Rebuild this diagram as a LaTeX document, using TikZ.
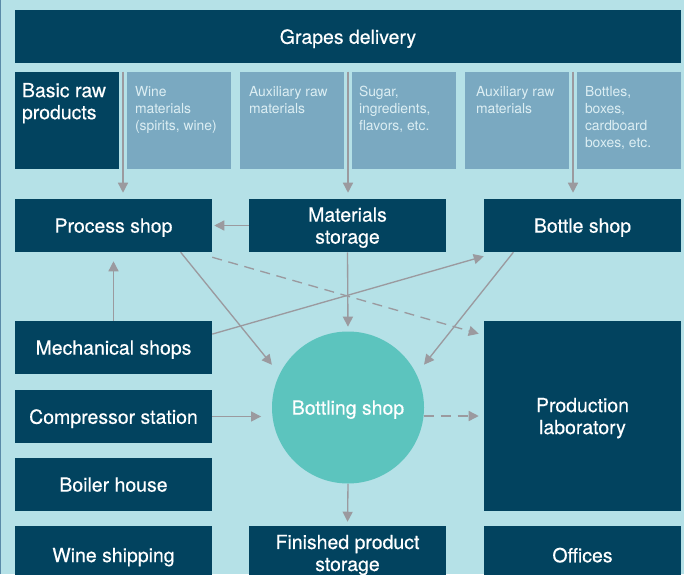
\documentclass[tikz,border=0pt]{standalone}
\usepackage{fontspec}
\setmainfont{TeX Gyre Heros}
\newfontfamily\medfont{TeX Gyre Heros}[FakeBold=0.4]
\usetikzlibrary{calc,arrows.meta}
\definecolor{bgcol}{HTML}{B5E1E7}
\definecolor{darkcol}{HTML}{02435F}
\definecolor{paleblue}{HTML}{7AA9C1}
\definecolor{paletxt}{HTML}{DCEEF3}
\definecolor{bottcol}{HTML}{5CC4BE}
\definecolor{arrowcol}{HTML}{9B9A9F}
\definecolor{edgecol}{HTML}{5A8AA8}
\tikzset{
	sz/.style 2 args={minimum width=#1*0.75pt, minimum height=#2*0.75pt},
	darkbox/.style={fill=darkcol, text=white, inner sep=0pt, text depth=0pt, align=center, font=\medfont\fontsize{14.6}{16.5}\selectfont},
	lightbox/.style={fill=paleblue, inner sep=0pt},
	bigtxt/.style={anchor=north west, inner sep=0pt, text=white, align=left, font=\medfont\fontsize{14.6}{16.5}\selectfont},
	smalltxt/.style={anchor=north west, inner sep=0pt, text=paletxt, align=left, font=\fontsize{10.4}{12.75}\selectfont},
	flow/.style={draw=arrowcol, line width=1pt, -{Triangle[length=7.5pt,width=7.5pt]}},
	dashflow/.style={flow, dash pattern=on 7.5pt off 5pt},
}

\begin{document}
\begin{tikzpicture}[x=0.75pt, y=-0.75pt]
			%%%%% START %%%%%
			
			\fill[bgcol] (0, 0) rectangle (684, 574);
			\useasboundingbox (0, 0) rectangle (684, 574);
			\clip (0, 0) rectangle (684, 574);
			\draw[edgecol, line width=0.75pt] (0.5, 0) -- (0.5, 574);
			
			\node[darkbox, sz={666}{53}] (grapes) at (348, 36.5) {Grapes delivery};
			
			\node[darkbox, sz={104}{97}] (basic) at (67, 120.5) {};
			\node[lightbox, sz={104}{97}] (wine) at (179, 120.5) {};
			\node[lightbox, sz={104}{97}] (auxa) at (292, 120.5) {};
			\node[lightbox, sz={104}{97}] (sugar) at (404, 120.5) {};
			\node[lightbox, sz={104}{97}] (auxb) at (517, 120.5) {};
			\node[lightbox, sz={104}{97}] (bottles) at (629, 120.5) {};
			
			\node[bigtxt] (basictxt) at ([shift={(7, 11)}]basic.north west) {Basic raw\\products};
			\node[smalltxt] (winetxt) at ([shift={(8, 14)}]wine.north west) {Wine\\materials\\(spirits, wine)};
			\node[smalltxt] (auxatxt) at ([shift={(9, 14)}]auxa.north west) {Auxiliary raw\\materials};
			\node[smalltxt] (sugartxt) at ([shift={(7, 14)}]sugar.north west) {Sugar,\\ingredients,\\flavors, etc.};
			\node[smalltxt] (auxbtxt) at ([shift={(11, 14)}]auxb.north west) {Auxiliary raw\\materials};
			\node[smalltxt] (bottlestxt) at ([shift={(8, 14)}]bottles.north west) {Bottles,\\boxes,\\cardboard\\boxes, etc.};
			
			\node[darkbox, sz={197}{53}] (proc) at (113.5, 225.5) {Process shop};
			\node[darkbox, sz={197}{53}] (mat) at (347.5, 225.5) {Materials\\storage};
			\node[darkbox, sz={197}{53}] (bshop) at (582.5, 225.5) {Bottle shop};
			
			\node[darkbox, sz={197}{53}] (mech) at (113.5, 347.5) {Mechanical shops};
			\node[darkbox, sz={197}{53}] (comp) at (113.5, 416.5) {Compressor station};
			\node[darkbox, sz={197}{53}] (boil) at (113.5, 484.5) {Boiler house};
			\node[darkbox, sz={197}{58}] (ship) at (113.5, 555) {Wine shipping};
			
			\node[circle, fill=bottcol, text=white, inner sep=0pt, text depth=0pt, minimum size=114pt, font=\medfont\fontsize{14.6}{16.5}\selectfont] (bott) at (348, 407.5) {Bottling shop};
			\node[darkbox, sz={197}{58}, text depth={}] (fin) at (347.5, 555) {Finished product\\storage};
			
			\node[darkbox, sz={197}{190}] (lab) at (582.5, 416) {Production\\laboratory};
			\node[darkbox, sz={197}{58}] (off) at (582.5, 555) {Offices};
			
			% arrows from the top row
			\coordinate (ta) at ($(basic.north east)!.5!(wine.north west)$);
			\coordinate (tb) at ($(auxa.north east)!.5!(sugar.north west)$);
			\coordinate (tc) at ($(auxb.north east)!.5!(bottles.north west)$);
			\draw[flow, shorten >=4.5pt] (ta) -- (ta |- proc.north);
			\draw[flow, shorten >=4.5pt] (tb) -- (tb |- mat.north);
			\draw[flow, shorten >=4.5pt] (tc) -- (tc |- bshop.north);
			
			\draw[flow, shorten >=1.5pt] (mat.west) -- (proc.east);
			\draw[flow, shorten >=6.75pt] (mech.north) -- (proc.south);
			\draw[flow, shorten >=9pt] ($(proc.south west)!.84!(proc.south east)$) -- (bott.154);
			\draw[flow, shorten >=9pt] ($(bshop.south west)!.15!(bshop.south east)$) -- (bott.26);
			\draw[flow] ($(mech.north east)!.25!(mech.south east)$) -- ([yshift=-3pt]bshop.south west);
			\draw[dashflow] ([yshift=-3.75pt]proc.south east) -- ([shift={(-5, 13)}]lab.north west);
			\draw[flow, shorten >=3.4pt] (mat.south) -- (bott.north);
			\draw[flow, shorten >=8pt] (comp.east) -- (comp.east -| bott.west);
			\draw[dashflow, shorten >=3.75pt] (lab.west -| bott.east) -- (lab.west);
			\draw[flow, shorten >=3pt] (bott.south) -- (fin.north);
			
			%%%%% END %%%%%
\end{tikzpicture}
\end{document}
